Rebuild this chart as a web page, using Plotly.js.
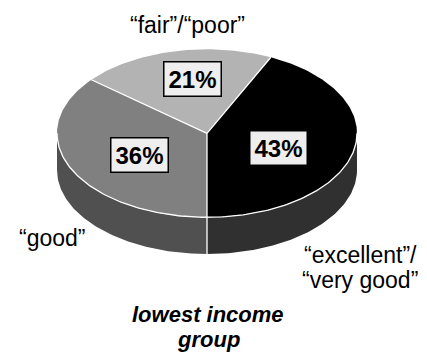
<!DOCTYPE html>
<html>
<head>
<meta charset="utf-8">
<script src="https://cdn.plot.ly/plotly-3.0.1.min.js"></script>
<style>html,body{margin:0;padding:0;background:#fff}#chart{width:427px;height:353px}</style>
</head>
<body>
<div id="chart"></div>
<script>
// ---- data ----
const categories = ['\u201Cexcellent\u201D/\u201Cvery good\u201D', '\u201Cgood\u201D', '\u201Cfair\u201D/\u201Cpoor\u201D'];
const shares = [43, 36, 21];
const pctLabels = ['43%', '36%', '21%'];
const categoryLines = [['\u201Cexcellent\u201D/', '\u201Cvery good\u201D'], ['\u201Cgood\u201D'], ['\u201Cfair\u201D/\u201Cpoor\u201D']];
const groupTitle = ['lowest income', 'group'];

// ---- style / geometry ----
const topColors = ['#000000', '#808080', '#b3b3b3'];
const sideColors = ['#303030', '#505050', '#7a7a7a'];
const cx = 207, cy = 133.3, rx = 150, ry = 84, depth = 36.7;
const startAngle = 25.2; // degrees clockwise from 12 o'clock
const FONT = 'Liberation Sans, Arial, sans-serif';
const NARROW = 'Liberation Sans Narrow, Arial Narrow, Liberation Sans, Arial, sans-serif';

function pt(deg, dy) {
  const r = deg * Math.PI / 180;
  return [cx + rx * Math.sin(r), cy - ry * Math.cos(r) + (dy || 0)];
}
function arc(a, b, dy) {
  const xs = [], ys = [];
  const n = Math.max(2, Math.ceil(Math.abs(b - a)));
  for (let i = 0; i <= n; i++) {
    const p = pt(a + (b - a) * i / n, dy);
    xs.push(p[0]); ys.push(p[1]);
  }
  return [xs, ys];
}

const total = shares.reduce((s, v) => s + v, 0);
const bounds = [];
let acc = startAngle;
shares.forEach(v => { const a = acc; acc += v / total * 360; bounds.push([a, acc]); });

const traces = [];
// side faces (front half: 90..270 deg)
bounds.forEach((bd, i) => {
  for (const off of [0, 360, -360]) {
    const a = Math.max(bd[0] + off, 90), b = Math.min(bd[1] + off, 270);
    if (b > a) {
      const top = arc(a, b, 0), bot = arc(b, a, depth);
      traces.push({type: 'scatter', mode: 'lines', x: top[0].concat(bot[0]), y: top[1].concat(bot[1]),
        fill: 'toself', fillcolor: sideColors[i], line: {width: 0}, hoverinfo: 'skip'});
    }
  }
});
// top sectors
bounds.forEach((bd, i) => {
  const t = arc(bd[0], bd[1], 0);
  traces.push({type: 'scatter', mode: 'lines', x: [cx].concat(t[0], [cx]), y: [cy].concat(t[1], [cy]),
    fill: 'toself', fillcolor: topColors[i], line: {width: 0}, hoverinfo: 'skip'});
});
// white separators
bounds.forEach(bd => {
  const p = pt(bd[0], 0);
  traces.push({type: 'scatter', mode: 'lines', x: [cx, p[0]], y: [cy, p[1]],
    line: {color: '#ffffff', width: 1.3}, hoverinfo: 'skip'});
  let ang = ((bd[0] % 360) + 360) % 360;
  if (ang > 90 && ang < 270) {
    traces.push({type: 'scatter', mode: 'lines', x: [p[0], p[0]], y: [p[1], p[1] + depth],
      line: {color: '#ffffff', width: 1.3}, hoverinfo: 'skip'});
  }
});
const rim = arc(90, 270, 0);
traces.push({type: 'scatter', mode: 'lines', x: rim[0], y: rim[1], line: {color: '#ffffff', width: 1.3}, hoverinfo: 'skip'});

// annotations
const annotations = [];
const boxPos = [[278.5, 148], [139, 154.5], [192, 78.5]];
pctLabels.forEach((t, i) => {
  annotations.push({x: boxPos[i][0], y: boxPos[i][1], xref: 'x', yref: 'y', text: t, showarrow: false,
    xanchor: 'center', yanchor: 'middle', width: 56, height: 33, borderpad: 0, borderwidth: 1.5,
    bordercolor: '#000', bgcolor: '#eeeeee', font: {family: NARROW, size: 24, color: '#000', weight: 'bold'}});
});
const catPos = [[[302, 255], [300, 280]], [[17, 238]], [[187, 24.7]]];
const catAnchor = ['left', 'left', 'center'];
categoryLines.forEach((lines, i) => {
  lines.forEach((ln, j) => {
    annotations.push({x: catPos[i][j][0], y: catPos[i][j][1], xref: 'x', yref: 'y', text: ln, showarrow: false,
      xanchor: catAnchor[i], yanchor: 'middle', font: {family: FONT, size: 23, color: '#000'}});
  });
});
const titlePos = [[208, 314.3], [208, 339.3]];
groupTitle.forEach((ln, j) => {
  annotations.push({x: titlePos[j][0], y: titlePos[j][1], xref: 'x', yref: 'y', text: ln, showarrow: false,
    xanchor: 'center', yanchor: 'middle', font: {family: FONT, size: 22, color: '#000', weight: 'bold', style: 'italic'}});
});

const layout = {
  width: 427, height: 353, margin: {l: 0, r: 0, t: 0, b: 0},
  paper_bgcolor: '#ffffff', plot_bgcolor: '#ffffff', showlegend: false,
  xaxis: {range: [0, 427], visible: false, fixedrange: true},
  yaxis: {range: [353, 0], visible: false, fixedrange: true},
  annotations: annotations
};
Plotly.newPlot('chart', traces, layout, {staticPlot: true, displayModeBar: false});
</script>
</body>
</html>
